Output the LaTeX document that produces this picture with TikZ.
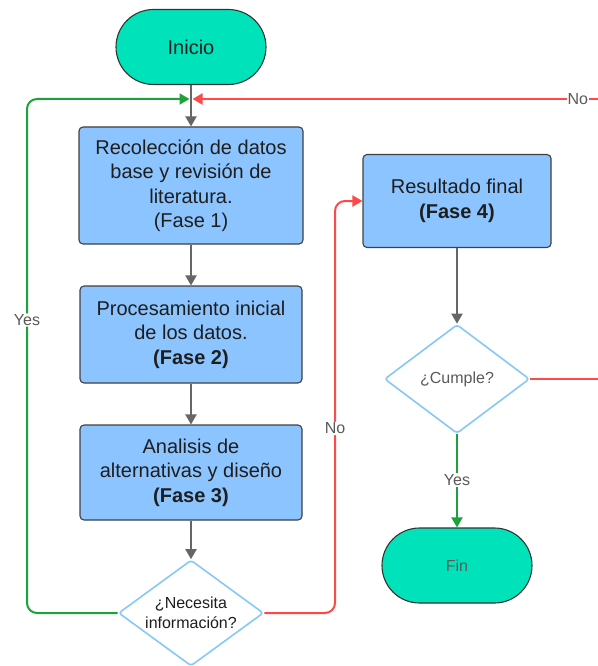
\documentclass[tikz,border=0pt]{standalone}
\usepackage{fontspec}
\setmainfont{Liberation Sans}
\usetikzlibrary{arrows.meta,shapes.geometric}
\definecolor{teal1}{HTML}{00E2BA}
\definecolor{blue1}{HTML}{8CC4FF}
\definecolor{dia}{HTML}{86C8F8}
\definecolor{grn}{HTML}{1BA23A}
\definecolor{rd}{HTML}{FF4848}
\definecolor{gry}{HTML}{666666}
\definecolor{txt}{HTML}{1E1E1E}
\definecolor{lbltxt}{HTML}{5A5A5A}
\tikzset{
  term/.style={draw=black!80, line width=1.1pt, fill=teal1, rectangle, minimum width=150pt, minimum height=75pt, rounded corners=37.5pt},
  phase/.style={draw=black!75, line width=1.1pt, fill=blue1, rectangle, rounded corners=4pt, align=center, text=txt, font=\fontsize{20}{24.5}\selectfont, inner sep=0pt},
  decis/.style={draw=dia, line width=1.6pt, fill=white, diamond, aspect=1.37, inner sep=0pt, rounded corners=3pt, align=center, font=\fontsize{16}{20}\selectfont},
  conn/.style={line width=2pt, -{Triangle[length=10pt,width=11pt]}},
  bareline/.style={line width=2pt},
  lbl/.style={fill=white, text=lbltxt, font=\fontsize{16}{18}\selectfont, inner sep=1pt}
}
\begin{document}
\begin{tikzpicture}[x=1pt,y=-1pt]
\useasboundingbox (0,0) rectangle (597,666);
% nodes
\node[term, text=txt, font=\fontsize{20}{24}\selectfont] (ini) at (191,47) {Inicio};
\node[phase, minimum width=224pt, minimum height=117pt] (b1) at (191,185.5) {Recolección de datos\\base y revisión de\\literatura.\\(Fase 1)};
\node[phase, minimum width=222pt, minimum height=97pt] (b2) at (191,334.5) {Procesamiento inicial\\de los datos.\\\textbf{(Fase 2)}};
\node[phase, minimum width=222pt, minimum height=95pt] (b3) at (191,472.5) {Analisis de\\alternativas y diseño\\\textbf{(Fase 3)}};
\node[decis, text=txt, minimum width=145pt, minimum height=106pt] (d1) at (191,613) {¿Necesita\\información?};
\node[phase, minimum width=188pt, minimum height=93pt] (b4) at (457,201) {Resultado final\\\textbf{(Fase 4)}};
\node[decis, text=lbltxt, minimum width=145pt, minimum height=109pt] (d2) at (457,379) {¿Cumple?};
\node[term, text=lbltxt, font=\fontsize{16}{20}\selectfont] (fin) at (457,565.5) {Fin};
\coordinate (jn) at (191,99);
\coordinate (rt) at (598,99);
\coordinate (rc) at (598,379);
% gray connectors
\draw[conn, gry] (ini.south) -- (b1.north);
\draw[conn, gry] (b1.south) -- (b2.north);
\draw[conn, gry] (b2.south) -- (b3.north);
\draw[conn, gry] (b3.south) -- (d1.north);
\draw[conn, gry] (b4.south) -- (d2.north);
% green loop (Yes)
\draw[conn, grn, rounded corners=10pt] (d1.west) -- (27,613) -- node[lbl, pos=0.57]{Yes} (27,99) -- ([xshift=-1.5pt]jn);
% red (No) to Fase 4
\draw[conn, rd, rounded corners=10pt] (d1.east) -- (335,613) -- node[lbl, pos=0.448]{No} (335,201) -- (b4.west);
% red top No
\draw[conn, rd] (rt) -- node[lbl, pos=0.05]{No} ([xshift=1.5pt]jn);
% red from Cumple
\draw[bareline, rd] (d2.east) -- (rc);
% green Yes to Fin
\draw[conn, grn] (d2.south) -- node[lbl, pos=0.49]{Yes} (fin.north);
\end{tikzpicture}
\end{document}
